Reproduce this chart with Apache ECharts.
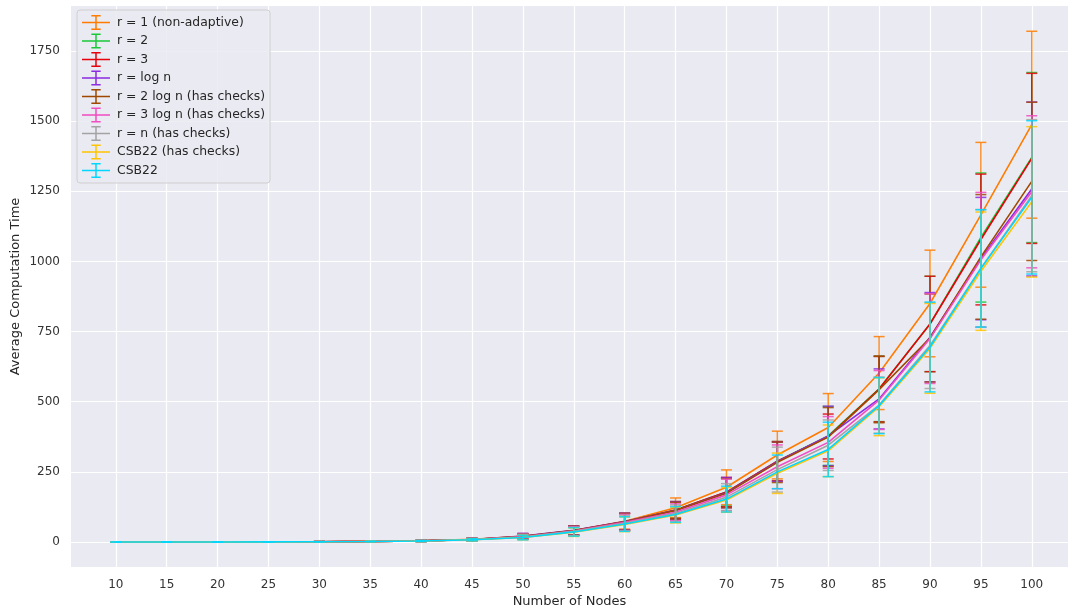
<!DOCTYPE html>
<html><head><meta charset="utf-8">
<script src="https://cdn.jsdelivr.net/npm/echarts@6/dist/echarts.min.js"></script>
<style>html,body{margin:0;padding:0;background:#fff}#c{width:1068px;height:611px}</style>
</head><body><div id="c"></div>
<script>
const nodes = [10,15,20,25,30,35,40,45,50,55,60,65,70,75,80,85,90,95,100];
const yTicks = [0,250,500,750,1000,1250,1500,1750];
const seriesNames = ['r = 1 (non-adaptive)','r = 2','r = 3','r = log n','r = 2 log n (has checks)','r = 3 log n (has checks)','r = n (has checks)','CSB22 (has checks)','CSB22'];
const seriesColors = ['#ff7c00','#1ac938','#e8000b','#8b2be2','#9f4800','#f14cc1','#a3a3a3','#ffc400','#00d7ff'];

const meanR1     = [0.1,0.2,0.4,0.7,1.2,2.3,4.2,9.5,20,41,74,122,195,310,408,602,850,1166,1487];
const meanR2     = [0.1,0.2,0.4,0.7,1.2,2.2,4.0,9.0,19,40,72,114,178,288,378,546,777,1085,1370];
const meanR3     = [0.1,0.2,0.4,0.7,1.2,2.2,4.0,9.0,19,40,72,114,178,288,376,545,777,1078,1367];
const meanLogN   = [0.1,0.2,0.4,0.7,1.2,2.2,4.1,9.2,21,42,73,112,176,286,378,510,730,1010,1258];
const mean2LogN  = [0.1,0.2,0.4,0.7,1.2,2.2,4.0,9.0,20,41,72,112,174,284,374,543,727,1016,1285];
const mean3LogN  = [0.1,0.2,0.4,0.7,1.2,2.2,3.9,8.8,19,39,70,106,168,268,355,506,725,1006,1248];
const meanRN     = [0.1,0.2,0.4,0.7,1.1,2.1,3.8,8.5,18,38,67,102,160,258,345,488,700,975,1234];
const meanCSBc   = [0.1,0.2,0.3,0.6,1.0,1.9,3.5,8.0,16,35,63,96,150,245,325,482,690,965,1212];
const meanCSB    = [0.1,0.2,0.3,0.6,1.0,1.9,3.6,8.1,16,36,64,98,153,250,330,486,695,975,1228];

const stdR1      = [0.05,0.1,0.2,0.3,0.5,1,2,4,10,17,28,35,62,85,121,130,190,258,333];
const stdR2      = [0.05,0.1,0.2,0.3,0.5,1,2,4,9,16,30,30,50,70,105,117,170,230,303];
const stdR3      = [0.05,0.1,0.2,0.3,0.5,1,2,4,9,16,30,30,52,70,80,117,170,233,303];
const stdLogN    = [0.05,0.1,0.2,0.3,0.5,1,2,4,10,16,30,32,54,70,106,107,159,218,310];
const std2LogN   = [0.05,0.1,0.2,0.3,0.5,1,2,4,9,16,30,30,52,72,105,118,157,222,282];
const std3LogN   = [0.05,0.1,0.2,0.3,0.5,1,2,4,9,16,29,30,56,78,92,105,160,240,271];
const stdRN      = [0.05,0.1,0.2,0.3,0.5,1,2,4,9,15,28,30,48,80,90,100,153,210,271];
const stdCSBc    = [0.05,0.1,0.2,0.3,0.5,1,2,4,8,15,26,28,44,72,92,103,160,211,268];
const stdCSB     = [0.05,0.1,0.2,0.3,0.5,1,2,4,8,15,26,28,46,60,97,100,160,209,273];

const means = [meanR1,meanR2,meanR3,meanLogN,mean2LogN,mean3LogN,meanRN,meanCSBc,meanCSB];
const stds  = [stdR1,stdR2,stdR3,stdLogN,std2LogN,std3LogN,stdRN,stdCSBc,stdCSB];

const chart = echarts.init(document.getElementById('c'));
const FONT = 'DejaVu Sans';
const iconPath = 'path://M0,8.2h30v1.6h-30z M14.2,1h1.6v16h-1.6z M10,1h10v1.6h-10z M10,15.4h10v1.6h-10z';

const series = [];
seriesNames.forEach((name, i) => {
  const col = seriesColors[i];
  series.push({
    name: name, type: 'line', showSymbol: false, symbol: 'none',
    data: nodes.map((x, k) => [x, means[i][k]]),
    lineStyle: { color: col, width: 1.6 }, itemStyle: { color: col },
    z: 2 + i * 2, animation: false, silent: true
  });
  series.push({
    name: name, type: 'custom',
    data: nodes.map((x, k) => [x, means[i][k] - stds[i][k], means[i][k] + stds[i][k]]),
    itemStyle: { color: col },
    z: 3 + i * 2, animation: false, silent: true,
    renderItem: function (params, api) {
      const x = api.value(0);
      const lo = api.coord([x, api.value(1)]);
      const hi = api.coord([x, api.value(2)]);
      const hw = 5.5;
      const st = { stroke: col, lineWidth: 1.5, opacity: 0.85 };
      return { type: 'group', children: [
        { type: 'line', shape: { x1: lo[0], y1: lo[1], x2: hi[0], y2: hi[1] }, style: st },
        { type: 'line', shape: { x1: lo[0] - hw, y1: lo[1], x2: lo[0] + hw, y2: lo[1] }, style: st },
        { type: 'line', shape: { x1: hi[0] - hw, y1: hi[1], x2: hi[0] + hw, y2: hi[1] }, style: st }
      ]};
    }
  });
});

chart.setOption({
  animation: false,
  backgroundColor: '#ffffff',
  textStyle: { fontFamily: FONT },
  grid: { left: 71, right: 0, top: 6, bottom: 44, show: true, backgroundColor: '#eaeaf2', borderWidth: 0, containLabel: false, outerBoundsMode: 'none' },
  legend: {
    data: seriesNames.map((n, i) => ({ name: n, icon: iconPath, itemStyle: { color: seriesColors[i] } })),
    orient: 'vertical', left: 77, top: 10,
    itemWidth: 28, itemHeight: 16, itemGap: 1.5,
    padding: [4, 5, 4, 5],
    backgroundColor: 'rgba(234,234,242,0.85)', borderColor: '#d0d0d0', borderWidth: 1, borderRadius: 3,
    textStyle: { fontFamily: FONT, fontSize: 12.4, color: '#262626', padding: [0, 0, 0, 2], lineHeight: 17 },
    selectedMode: false
  },
  xAxis: {
    type: 'value', min: 5.6, max: 103.56,
    name: 'Number of Nodes', nameLocation: 'middle', nameGap: 28, nameMoveOverlap: false,
    nameTextStyle: { fontFamily: FONT, fontSize: 13, color: '#262626' },
    axisLine: { show: false }, axisTick: { show: false, customValues: nodes },
    axisLabel: { customValues: nodes, fontFamily: FONT, fontSize: 12, color: '#333333', margin: 12, formatter: v => String(v) },
    splitLine: { show: true, lineStyle: { color: '#ffffff', width: 1.2 } }
  },
  yAxis: {
    type: 'value', min: -89, max: 1910,
    name: 'Average Computation Time', nameLocation: 'middle', nameGap: 49, nameRotate: 90, nameMoveOverlap: false,
    nameTextStyle: { fontFamily: FONT, fontSize: 13, color: '#262626' },
    axisLine: { show: false }, axisTick: { show: false, customValues: yTicks },
    axisLabel: { customValues: yTicks, fontFamily: FONT, fontSize: 12, color: '#333333', margin: 11, formatter: v => String(v) },
    splitLine: { show: true, lineStyle: { color: '#ffffff', width: 1.2 } }
  },
  series: series
});
</script></body></html>
